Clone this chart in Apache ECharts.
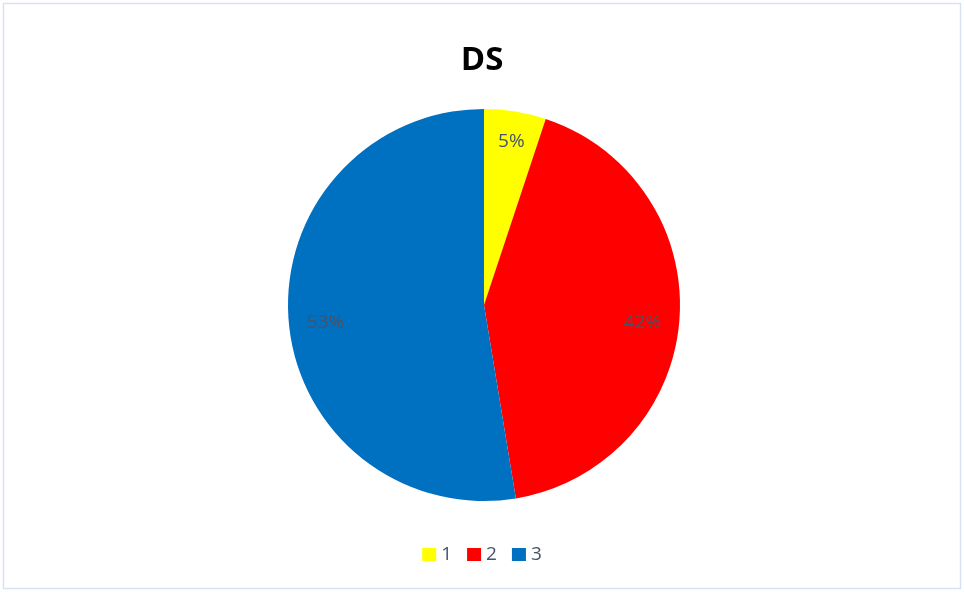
<!DOCTYPE html>
<html><head><meta charset="utf-8">
<script src="https://cdn.jsdelivr.net/npm/echarts@6/dist/echarts.min.js"></script>
<style>html,body{margin:0;padding:0;background:#fff}#c{width:964px;height:592px}</style>
</head><body><div id="c"></div>
<script>
const categories = ['1', '2', '3'];
const values = [5.1, 42.3, 52.6];
const colors = ['#FFFF00', '#FF0000', '#0070C0'];
const titleText = 'DS';

const chart = echarts.init(document.getElementById('c'));
const dataMain = categories.map((n, i) => ({ name: n, value: values[i], itemStyle: { color: colors[i] } }));
const dataLbl = categories.map((n, i) => ({ name: n, value: values[i] }));
chart.setOption({
  animation: false,
  graphic: [{ type: 'rect', shape: { x: 3.5, y: 3.5, width: 957, height: 585 }, style: { fill: 'none', stroke: '#D9E1F2', lineWidth: 1.5 }, silent: true }],
  title: { text: titleText, left: 'center', top: 39, textStyle: { fontFamily: 'Open Sans', fontWeight: 'bold', fontSize: 33, color: '#000' } },
  legend: {
    data: categories, bottom: 23, left: 'center', itemWidth: 14, itemHeight: 13, itemGap: 15,
    icon: 'rect', textStyle: { fontFamily: 'Open Sans', fontSize: 19, color: '#44546A' }
  },
  series: [
    {
      type: 'pie', center: [484, 305], radius: [0, 196], startAngle: 90, clockwise: true,
      data: dataMain, label: { show: false }, labelLine: { show: false }, emphasis: { disabled: true }
    },
    {
      type: 'pie', center: [484, 305], radius: [0, 312], startAngle: 90, clockwise: true, silent: true,
      data: dataLbl, itemStyle: { color: 'rgba(0,0,0,0)' }, emphasis: { disabled: true },
      label: { show: true, position: 'inside', formatter: p => Math.round(p.percent) + '%', fontFamily: 'Open Sans', fontSize: 19, color: '#44546A' },
      labelLayout: p => ({ dx: p.dataIndex === 0 ? 2 : 0, dy: p.dataIndex === 0 ? -6 : 5 }),
      labelLine: { show: false }
    }
  ]
});
</script></body></html>
